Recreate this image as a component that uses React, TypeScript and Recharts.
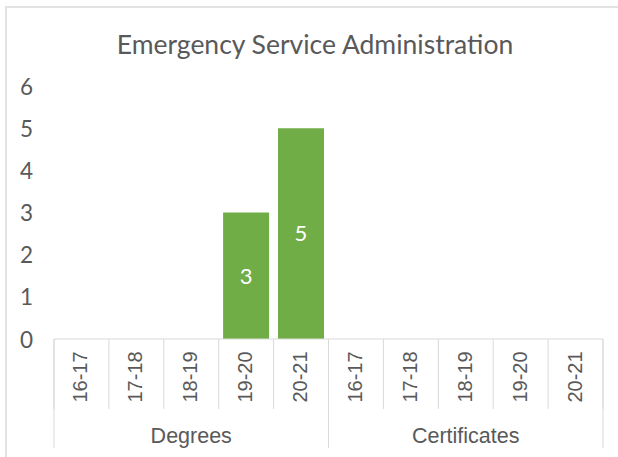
import React from "react"
import { BarChart, Bar, XAxis, YAxis, LabelList } from "recharts"

const periods = ["16-17", "17-18", "18-19", "19-20", "20-21", "16-17", "17-18", "18-19", "19-20", "20-21"]
const groups = ["Degrees", "Degrees", "Degrees", "Degrees", "Degrees", "Certificates", "Certificates", "Certificates", "Certificates", "Certificates"]
const counts = [0, 0, 0, 3, 5, 0, 0, 0, 0, 0]
const yTicks = [0, 1, 2, 3, 4, 5, 6]

const data = periods.map((p, i) => ({ period: p, group: groups[i], count: counts[i] }))

const TEXT = "#595959"
const LINE = "#d9d9d9"
const GREEN = "#70ad47"
const PERIOD_H = 70
const GROUP_H = 39

function PeriodTick(props: any) {
  const { x, y, payload, index } = props
  const half = payload.offset || 0
  return (
    <g>
      <line x1={x - half} y1={y} x2={x - half} y2={y + PERIOD_H} stroke={LINE} />
      {index === periods.length - 1 && (
        <line x1={x + half} y1={y} x2={x + half} y2={y + PERIOD_H} stroke={LINE} />
      )}
      <text
        transform={`translate(${x - 1},${y + 38}) rotate(-90)`}
        textAnchor="middle"
        dominantBaseline="central"
        fill={TEXT}
        fontFamily="Liberation Sans, Arial, sans-serif"
        fontSize={20}
      >
        {payload.value}
      </text>
    </g>
  )
}

function GroupTick(props: any) {
  const { x, y, payload, index } = props
  const half = payload.offset || 0
  return (
    <g>
      <line x1={x - half} y1={y - PERIOD_H} x2={x - half} y2={y + GROUP_H} stroke={LINE} />
      {index === 1 && (
        <line x1={x + half} y1={y - PERIOD_H} x2={x + half} y2={y + GROUP_H} stroke={LINE} />
      )}
      <text
        x={x}
        y={y + 27}
        textAnchor="middle"
        dominantBaseline="central"
        fill={TEXT}
        fontFamily="Liberation Sans, Arial, sans-serif"
        fontSize={21.5}
      >
        {payload.value}
      </text>
    </g>
  )
}

function ValueTick(props: any) {
  const { x, y, payload } = props
  return (
    <text x={x - 21} y={y} textAnchor="end" dominantBaseline="central" fill={TEXT} fontFamily="Lato, sans-serif" fontSize={22.5}>
      {payload.value}
    </text>
  )
}

export default function App() {
  return (
    <div style={{ position: "absolute", left: 0, top: 0, width: 618, height: 457, background: "#fff", overflow: "hidden" }}>
      <div
        style={{
          position: "absolute",
          left: 5,
          top: 6,
          width: 640,
          height: 480,
          border: "2px solid #e2e2e2",
        }}
      />
      <div
        style={{
          position: "absolute",
          left: 10,
          top: 27,
          width: 610,
          textAlign: "center",
          fontFamily: "Lato, sans-serif",
          fontSize: 26.5,
          color: TEXT,
          lineHeight: "34px",
        }}
      >
        Emergency Service Administration
      </div>
      <div style={{ position: "absolute", left: 0, top: 0 }}>
        <BarChart
          width={618}
          height={457}
          data={data}
          margin={{ top: 86, right: 15, left: 0, bottom: 9 }}
          barCategoryGap="8%"
        >
          <XAxis
            xAxisId={0}
            dataKey="period"
            height={PERIOD_H}
            tickSize={0}
            tickMargin={0}
            tickLine={false}
            axisLine={{ stroke: LINE }}
            interval={0}
            tick={<PeriodTick />}
          />
          <XAxis
            xAxisId="group"
            dataKey="group"
            allowDuplicatedCategory={false}
            height={GROUP_H}
            tickSize={0}
            tickMargin={0}
            tickLine={false}
            axisLine={false}
            interval={0}
            tick={<GroupTick />}
          />
          <YAxis
            width={54}
            domain={[0, 6]}
            ticks={yTicks}
            tickSize={0}
            tickMargin={0}
            axisLine={false}
            tickLine={false}
            tick={<ValueTick />}
          />
          <Bar dataKey="count" xAxisId={0} fill={GREEN} isAnimationActive={false}>
            <LabelList
              dataKey="count"
              position="center"
              fill="#ffffff"
              fontFamily="Lato, sans-serif"
              fontSize={22}
              formatter={(v: any) => (v ? v : "")}
            />
          </Bar>
        </BarChart>
      </div>
    </div>
  )
}
